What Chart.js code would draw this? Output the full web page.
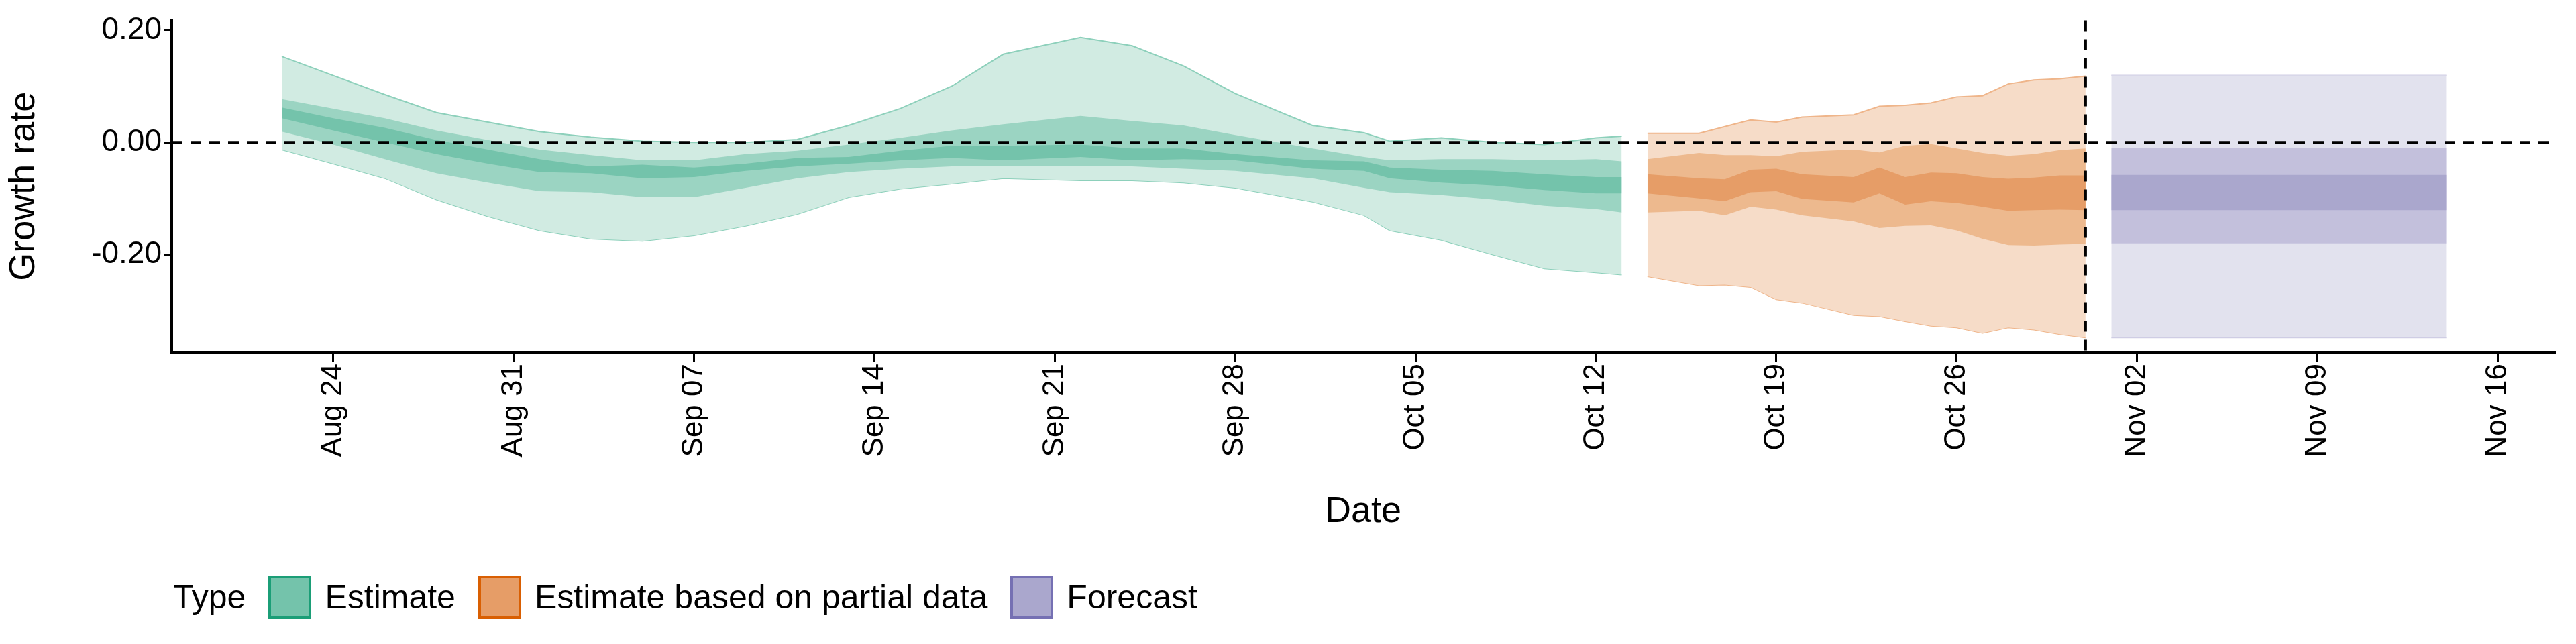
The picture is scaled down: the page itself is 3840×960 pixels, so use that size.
<!DOCTYPE html>
<html>
<head>
<meta charset="utf-8">
<script src="https://cdn.jsdelivr.net/npm/chart.js@4"></script>
<style>
  body { margin: 0; background: #fff; font-family: "Liberation Sans", Arial, sans-serif; }
  #wrap { position: relative; width: 3840px; height: 960px; }
  #legend { position: absolute; left: 258px; top: 858px; display: flex; align-items: center; font-size: 50px; color: #000; }
  #legend .key { width: 64px; height: 64px; box-sizing: border-box; border: 4px solid; margin: 0 20px 0 34px; }
</style>
</head>
<body>
<div id="wrap">
  <canvas id="chart" width="3840" height="960"></canvas>
  <div id="legend">
    <span>Type</span>
    <span class="key" style="background:#74c3ab;border-color:#1b9e77"></span><span>Estimate</span>
    <span class="key" style="background:#e69d67;border-color:#d95f02"></span><span>Estimate based on partial data</span>
    <span class="key" style="background:#aaa7cd;border-color:#7570b3"></span><span>Forecast</span>
  </div>
</div>
<script>
// days counted from Aug 24
const tickLabels = ['Aug 24', 'Aug 31', 'Sep 07', 'Sep 14', 'Sep 21', 'Sep 28', 'Oct 05', 'Oct 12', 'Oct 19', 'Oct 26', 'Nov 02', 'Nov 09', 'Nov 16'];

const estDays = [-2, 0, 2, 4, 6, 8, 10, 12, 14, 16, 18, 20, 22, 24, 26, 29, 31, 33, 35, 38, 40, 41, 43, 45, 47, 49, 50];
const est90Hi = [0.153, 0.119, 0.085, 0.053, 0.036, 0.019, 0.009, 0.002, 0, 0, 0.005, 0.03, 0.06, 0.10, 0.157, 0.187, 0.172, 0.136, 0.087, 0.03, 0.017, 0.002, 0.008, 0, -0.004, 0.008, 0.011];
const est90Lo = [-0.013, -0.038, -0.064, -0.102, -0.132, -0.157, -0.172, -0.176, -0.166, -0.149, -0.128, -0.098, -0.083, -0.074, -0.064, -0.068, -0.068, -0.072, -0.081, -0.106, -0.13, -0.157, -0.174, -0.2, -0.225, -0.232, -0.236];
const est50Hi = [0.077, 0.06, 0.043, 0.021, 0.004, -0.013, -0.023, -0.032, -0.032, -0.021, -0.015, -0.004, 0.008, 0.021, 0.032, 0.047, 0.038, 0.03, 0.013, -0.011, -0.026, -0.032, -0.03, -0.03, -0.032, -0.03, -0.034];
const est50Lo = [0.019, -0.004, -0.03, -0.055, -0.072, -0.087, -0.089, -0.098, -0.098, -0.081, -0.064, -0.053, -0.047, -0.043, -0.043, -0.043, -0.043, -0.047, -0.051, -0.064, -0.081, -0.089, -0.094, -0.102, -0.113, -0.119, -0.125];
const est20Hi = [0.062, 0.043, 0.026, 0.004, -0.013, -0.03, -0.043, -0.04, -0.045, -0.038, -0.028, -0.026, -0.015, -0.006, -0.006, -0.004, -0.011, -0.011, -0.021, -0.032, -0.034, -0.045, -0.049, -0.051, -0.057, -0.062, -0.062];
const est20Lo = [0.043, 0.021, 0, -0.021, -0.038, -0.053, -0.055, -0.064, -0.062, -0.051, -0.043, -0.038, -0.032, -0.028, -0.032, -0.026, -0.032, -0.03, -0.032, -0.047, -0.051, -0.064, -0.072, -0.077, -0.085, -0.091, -0.091];

const partDays = [51, 53, 54, 55, 56, 57, 59, 60, 61, 62, 63, 64, 65, 66, 67, 68];
const part90Hi = [0.016, 0.016, 0.028, 0.040, 0.036, 0.045, 0.049, 0.064, 0.066, 0.070, 0.081, 0.083, 0.104, 0.111, 0.113, 0.118];
const part90Lo = [-0.239, -0.255, -0.254, -0.258, -0.280, -0.286, -0.308, -0.310, -0.319, -0.327, -0.330, -0.340, -0.330, -0.334, -0.342, -0.348];
const part50Hi = [-0.030, -0.019, -0.023, -0.023, -0.025, -0.017, -0.013, -0.018, -0.006, -0.003, -0.011, -0.019, -0.024, -0.021, -0.014, -0.011];
const part50Lo = [-0.125, -0.122, -0.130, -0.115, -0.120, -0.130, -0.141, -0.153, -0.149, -0.148, -0.157, -0.172, -0.183, -0.184, -0.182, -0.181];
const part20Hi = [-0.057, -0.064, -0.066, -0.049, -0.047, -0.057, -0.062, -0.045, -0.062, -0.054, -0.055, -0.062, -0.065, -0.063, -0.059, -0.059];
const part20Lo = [-0.091, -0.100, -0.105, -0.089, -0.087, -0.101, -0.107, -0.091, -0.111, -0.105, -0.108, -0.115, -0.122, -0.121, -0.120, -0.121];

const fcDays = [69, 82];
const fc90 = [0.119, -0.348];
const fc50 = [-0.0095, -0.18];
const fc20 = [-0.058, -0.121];
const nowcastDay = 68;

const pts = (xs, ys) => xs.map((x, i) => ({ x: x, y: ys[i] }));
const flat = (xs, v) => xs.map(x => ({ x: x, y: v }));

function band(xs, hi, lo, color, order, edge) {
  return [
    { data: pts(xs, hi), fill: '+1', backgroundColor: color, borderColor: edge || 'transparent', borderWidth: edge ? 2 : 0, pointRadius: 0, tension: 0, order: order },
    { data: pts(xs, lo), fill: false, borderColor: edge || 'transparent', borderWidth: edge ? 2 : 0, pointRadius: 0, tension: 0, order: order }
  ];
}
function fcBand(lo, hi, color, order, edge) {
  return [
    { data: flat(fcDays, hi), fill: '+1', backgroundColor: color, borderColor: edge || 'transparent', borderWidth: edge ? 2 : 0, pointRadius: 0, order: order },
    { data: flat(fcDays, lo), fill: false, borderColor: edge || 'transparent', borderWidth: edge ? 2 : 0, pointRadius: 0, order: order }
  ];
}

const datasets = [].concat(
  band(estDays, est90Hi, est90Lo, '#d1ebe2', 3, '#8dd0bb'),
  band(estDays, est50Hi, est50Lo, '#9bd4c2', 2),
  band(estDays, est20Hi, est20Lo, '#74c3ab', 1),
  band(partDays, part90Hi, part90Lo, '#f6dcc8', 3, '#efb58a'),
  band(partDays, part50Hi, part50Lo, '#edb98e', 2),
  band(partDays, part20Hi, part20Lo, '#e69d67', 1),
  fcBand(fc90[0], fc90[1], '#e2e2ee', 3, '#cfcde4'),
  fcBand(fc50[0], fc50[1], '#c3c0dc', 2),
  fcBand(fc20[0], fc20[1], '#aaa7cd', 1)
);

const refLines = {
  id: 'refLines',
  afterDatasetsDraw(chart) {
    const { ctx, chartArea, scales } = chart;
    ctx.save();
    ctx.strokeStyle = '#000';
    ctx.lineWidth = 4;
    ctx.setLineDash([16, 12]);
    const y0 = scales.y.getPixelForValue(0);
    ctx.beginPath();
    ctx.moveTo(chartArea.left, y0);
    ctx.lineTo(chartArea.right, y0);
    ctx.stroke();
    const xv = scales.x.getPixelForValue(nowcastDay);
    ctx.beginPath();
    ctx.moveTo(xv, chartArea.top);
    ctx.lineTo(xv, chartArea.bottom);
    ctx.stroke();
    ctx.restore();
  }
};

new Chart(document.getElementById('chart').getContext('2d'), {
  type: 'line',
  data: { datasets: datasets },
  plugins: [refLines],
  options: {
    responsive: false,
    animation: false,
    layout: { padding: { left: 0, right: 32, top: 29, bottom: 160 } },
    plugins: { legend: { display: false }, tooltip: { enabled: false } },
    scales: {
      x: {
        type: 'linear',
        min: -6.27,
        max: 86.2,
        afterBuildTicks: s => { s.ticks = tickLabels.map((_, i) => ({ value: i * 7 })); },
        afterFit: s => { s.height = 275; },
        ticks: {
          autoSkip: false,
          maxRotation: 90,
          minRotation: 90,
          color: '#000',
          font: { size: 44, family: 'Liberation Sans' },
          callback: v => tickLabels[Math.round(v / 7)]
        },
        grid: { drawOnChartArea: false, drawTicks: true, tickLength: 14, color: '#000', lineWidth: 3 },
        border: { display: true, color: '#000', width: 4 },
        title: { display: true, text: 'Date', color: '#000', font: { size: 54, family: 'Liberation Sans' }, padding: { top: 0 } }
      },
      y: {
        min: -0.374,
        max: 0.217,
        afterBuildTicks: s => { s.ticks = [-0.2, 0, 0.2].map(v => ({ value: v })); },
        afterFit: s => { s.width = 256; },
        ticks: {
          color: '#000',
          font: { size: 46, family: 'Liberation Sans' },
          callback: v => v.toFixed(2)
        },
        grid: { drawOnChartArea: false, drawTicks: true, tickLength: 12, color: '#000', lineWidth: 3 },
        border: { display: true, color: '#000', width: 4 },
        title: { display: true, text: 'Growth rate', color: '#000', font: { size: 54, family: 'Liberation Sans' } }
      }
    }
  }
});
</script>
</body>
</html>
